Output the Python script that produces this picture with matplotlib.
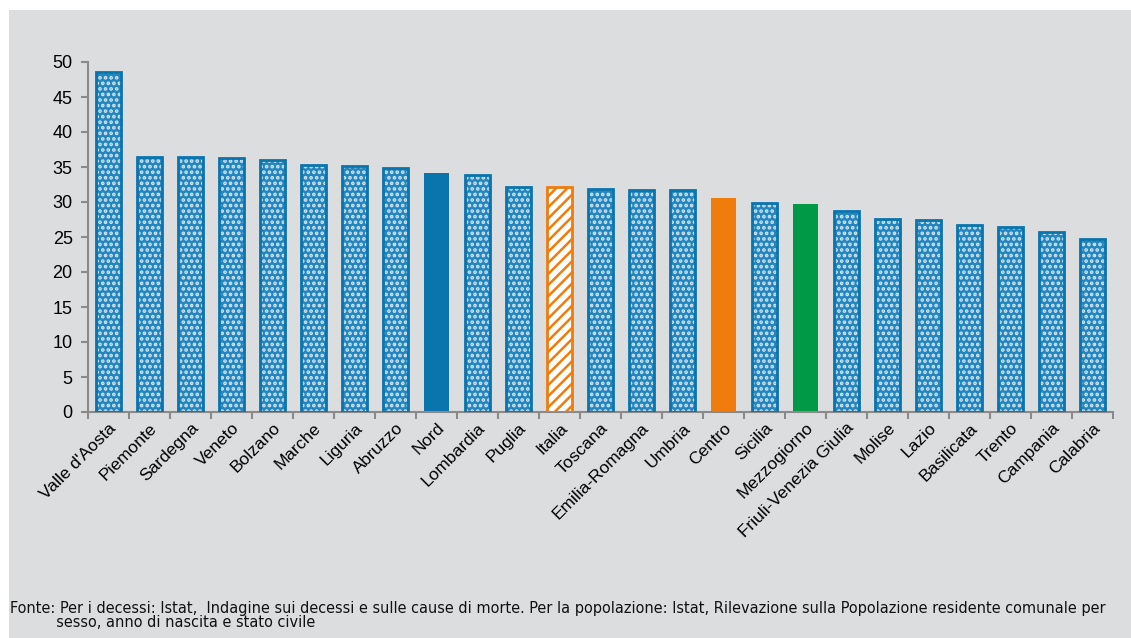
import matplotlib.pyplot as plt
from matplotlib.patches import Rectangle
import numpy as np

regioni = ["Valle d'Aosta", "Piemonte", "Sardegna", "Veneto", "Bolzano", "Marche",
           "Liguria", "Abruzzo", "Nord", "Lombardia", "Puglia", "Italia", "Toscana",
           "Emilia-Romagna", "Umbria", "Centro", "Sicilia", "Mezzogiorno",
           "Friuli-Venezia Giulia", "Molise", "Lazio", "Basilicata", "Trento",
           "Campania", "Calabria"]
valori = [48.6, 36.4, 36.4, 36.3, 36.0, 35.3, 35.1, 34.9, 34.1, 33.9, 32.1, 32.1,
          31.9, 31.7, 31.7, 30.6, 29.9, 29.7, 28.7, 27.6, 27.4, 26.7, 26.4, 25.7, 24.7]
yticks = [0, 5, 10, 15, 20, 25, 30, 35, 40, 45, 50]

fonte = ("Fonte: Per i decessi: Istat,  Indagine sui decessi e sulle cause di morte. "
         "Per la popolazione: Istat, Rilevazione sulla Popolazione residente comunale per\n"
         "          sesso, anno di nascita e stato civile")

BLU = "#0a74ad"
BLU_PUNTI = "#2585be"
ARANCIO = "#f07c0c"
VERDE = "#009a46"
SFONDO = "#dcdddf"

plt.rcParams["font.family"] = ["Liberation Sans", "DejaVu Sans"]

fig = plt.figure(figsize=(11.31, 6.38), dpi=100)
fig.patches.append(Rectangle((9 / 1131, 0), 1, 1 - 10 / 638, transform=fig.transFigure,
                             facecolor=SFONDO, edgecolor="none", zorder=-10))

ax = fig.add_axes([88 / 1131, 1 - 412 / 638, 1025 / 1131, 350 / 638])
ax.set_facecolor("none")

x = np.arange(len(regioni))
w = 0.63
for xi, nome, v in zip(x, regioni, valori):
    if nome in ("Nord", "Centro", "Mezzogiorno"):
        col = {"Nord": BLU, "Centro": ARANCIO, "Mezzogiorno": VERDE}[nome]
        ax.bar(xi, v, width=w, color=col, edgecolor="none", zorder=2)
    elif nome == "Italia":
        with plt.rc_context({"hatch.linewidth": 1.8}):
            ax.bar(xi, v, width=w, color="white", edgecolor=ARANCIO, hatch="///",
                   linewidth=0, zorder=2)
        ax.bar(xi, v, width=w, fill=False, edgecolor=ARANCIO, linewidth=2, zorder=3)
    else:
        with plt.rc_context({"hatch.linewidth": 1.8}):
            ax.bar(xi, v, width=w, color=BLU_PUNTI, edgecolor="#cfe6f4", hatch="...",
                   linewidth=0, zorder=2)
        ax.bar(xi, v, width=w, fill=False, edgecolor=BLU, linewidth=2, zorder=3)

ax.set_xlim(-0.5, len(regioni) - 0.5)
ax.set_ylim(0, 50)
ax.set_yticks(yticks)
ax.tick_params(axis="y", labelsize=13, length=5, width=1.5, color="#8a8a8a", pad=6)

ax.set_xticks(x)
ax.set_xticklabels(regioni, rotation=45, ha="right", va="top", rotation_mode="anchor",
                   fontsize=12.5)
ax.tick_params(axis="x", length=0, pad=6)
ax.set_xticks(np.arange(len(regioni) + 1) - 0.5, minor=True)
ax.tick_params(axis="x", which="minor", length=5, width=1.5, color="#8a8a8a")

for s in ("top", "right"):
    ax.spines[s].set_visible(False)
for s in ("left", "bottom"):
    ax.spines[s].set_color("#8a8a8a")
    ax.spines[s].set_linewidth(1.5)

fig.text(10 / 1131, 1 - 601 / 638, fonte, fontsize=11.6, va="top", ha="left",
         family="DejaVu Sans", fontstretch="condensed",
         linespacing=0.9, color="#111111")

fig.savefig("out.png", dpi=100)
